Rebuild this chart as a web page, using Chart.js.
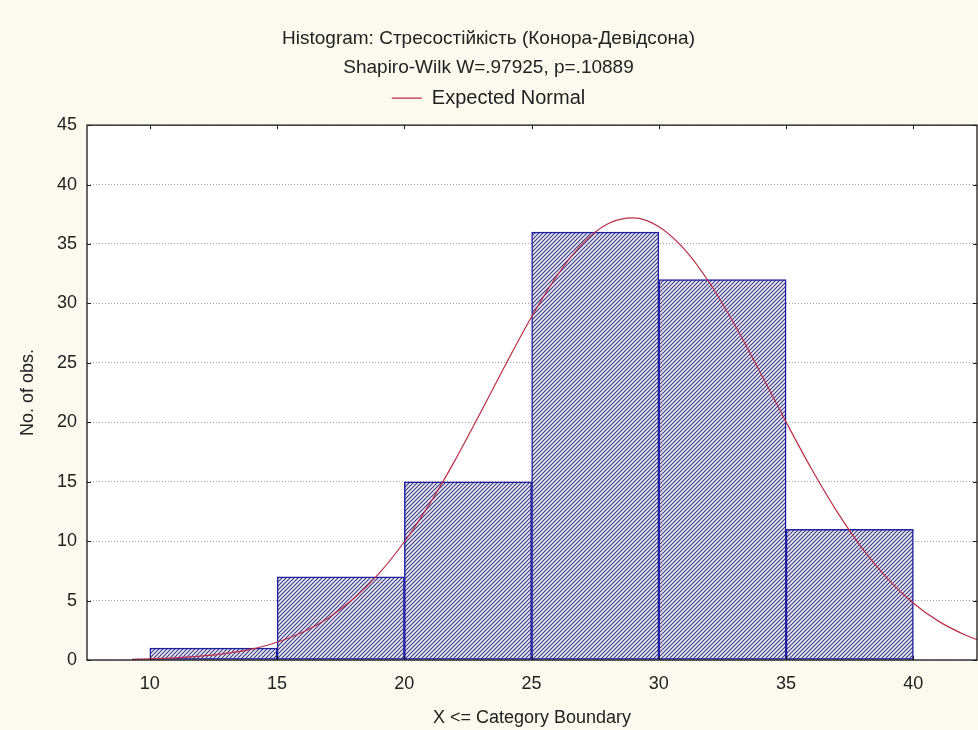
<!DOCTYPE html>
<html><head><meta charset="utf-8">
<script src="https://cdn.jsdelivr.net/npm/chart.js@4.4.1/dist/chart.umd.min.js"></script>
<style>html,body{margin:0;padding:0;background:#fcf9ef;overflow:hidden;}</style>
</head><body>
<canvas id="c" width="978" height="730"></canvas>
<script>
// ---- data ----
const titleLines = ['Histogram: Стресостійкість (Конора-Девідсона)', 'Shapiro-Wilk W=.97925, p=.10889'];
const legendLabel = 'Expected Normal';
const xAxisTitle = 'X <= Category Boundary';
const yAxisTitle = 'No. of obs.';
const binStarts = [10, 15, 20, 25, 30, 35];
const binEnds   = [15, 20, 25, 30, 35, 40];
const counts    = [1, 7, 15, 36, 32, 11];
const curveX = [9.3, 10, 11, 12, 13, 14, 15, 16, 17, 18, 19, 20, 21, 22, 23, 24, 25, 26, 27, 28, 29, 30, 31, 32, 33, 34, 35, 36, 37, 38, 39, 40, 41, 42, 42.5];
const curveY = [0.06, 0.10, 0.18, 0.32, 0.55, 0.92, 1.49, 2.33, 3.52, 5.15, 7.27, 9.95, 13.16, 16.84, 20.84, 24.94, 28.88, 32.34, 35.03, 36.70, 37.19, 36.46, 34.57, 31.70, 28.12, 24.12, 20.02, 16.07, 12.48, 9.37, 6.81, 4.78, 3.25, 2.14, 1.71];
const xTicks = [10, 15, 20, 25, 30, 35, 40];
const xRange = [7.53, 42.5];
const yRange = [0, 45];
const yStep = 5;

const FONT = "'Liberation Sans', Arial, sans-serif";
const TEXT = '#222222';
const canvas = document.getElementById('c');
const ctx = canvas.getContext('2d');

function hatchPattern() {
  const s = 4;
  const c = document.createElement('canvas');
  c.width = s; c.height = s;
  const g = c.getContext('2d');
  g.fillStyle = '#eeeef8';
  g.fillRect(0, 0, s, s);
  g.strokeStyle = '#3f3f80';
  g.lineWidth = 1.2;
  g.beginPath();
  g.moveTo(0, s); g.lineTo(s, 0);
  g.moveTo(-1, 1); g.lineTo(1, -1);
  g.moveTo(s - 1, s + 1); g.lineTo(s + 1, s - 1);
  g.stroke();
  return ctx.createPattern(c, 'repeat');
}

const barData = binStarts.map((s, i) => ({ x: (s + binEnds[i]) / 2, y: counts[i] }));
const lineData = curveX.map((x, i) => ({ x: x, y: curveY[i] }));

const framePlugin = {
  id: 'frame',
  beforeDraw(chart) {
    const { ctx, chartArea: a } = chart;
    ctx.save();
    ctx.fillStyle = '#fcf9ef';
    ctx.fillRect(0, 0, chart.width, chart.height);
    ctx.fillStyle = '#ffffff';
    ctx.fillRect(a.left, a.top, a.right - a.left, a.bottom - a.top);
    ctx.restore();
  },
  afterDraw(chart) {
    const { ctx, chartArea: a, scales } = chart;
    ctx.save();
    ctx.strokeStyle = '#1a1a1a';
    ctx.lineWidth = 1.3;
    ctx.strokeRect(a.left, a.top, a.right - a.left, a.bottom - a.top);
    ctx.beginPath();
    const t = 4;
    xTicks.forEach(v => {
      const px = Math.round(scales.x.getPixelForValue(v)) + 0.5;
      ctx.moveTo(px, a.top); ctx.lineTo(px, a.top + t);
      ctx.moveTo(px, a.bottom); ctx.lineTo(px, a.bottom - t);
    });
    scales.y.ticks.forEach(tk => {
      const py = Math.round(scales.y.getPixelForValue(tk.value)) + 0.5;
      ctx.moveTo(a.left, py); ctx.lineTo(a.left + t, py);
      ctx.moveTo(a.right, py); ctx.lineTo(a.right - t, py);
    });
    ctx.lineWidth = 1;
    ctx.stroke();
    ctx.restore();
  }
};

new Chart(ctx, {
  type: 'bar',
  data: {
    datasets: [
      {
        type: 'line',
        label: legendLabel,
        data: lineData,
        borderColor: '#bb2d48',
        borderWidth: 1.2,
        pointRadius: 0,
        pointStyle: 'line',
        tension: 0.4,
        cubicInterpolationMode: 'monotone',
        fill: false,
        order: 0
      },
      {
        type: 'bar',
        label: 'counts',
        data: barData,
        backgroundColor: hatchPattern(),
        borderColor: '#1e1ea0',
        borderWidth: 1.5,
        borderSkipped: false,
        barPercentage: 1,
        categoryPercentage: 1,
        order: 1
      }
    ]
  },
  options: {
    responsive: false,
    animation: false,
    devicePixelRatio: 1,
    layout: { padding: { left: 0, right: 1, top: 0, bottom: 0 } },
    plugins: {
      title: {
        display: true,
        text: titleLines,
        color: TEXT,
        font: { family: FONT, size: 19, weight: 'normal', lineHeight: 1.53 },
        padding: { top: 24, bottom: 0 }
      },
      legend: {
        display: true,
        labels: {
          filter: item => item.text === legendLabel,
          usePointStyle: true,
          pointStyleWidth: 30,
          color: TEXT,
          font: { family: FONT, size: 20 },
          padding: 6
        }
      },
      tooltip: { enabled: false }
    },
    scales: {
      x: {
        type: 'linear',
        min: xRange[0],
        max: xRange[1],
        offset: false,
        afterBuildTicks: s => { s.ticks = xTicks.map(v => ({ value: v })); },
        afterFit: s => { s.height = 70; },
        grid: { display: false, drawTicks: false },
        border: { display: false },
        ticks: { color: TEXT, font: { family: FONT, size: 18 }, padding: 13, maxRotation: 0 },
        title: { display: true, text: xAxisTitle, color: TEXT, font: { family: FONT, size: 18 }, padding: { top: 4, bottom: 1 } }
      },
      xTop: {
        type: 'linear',
        position: 'top',
        min: xRange[0],
        max: xRange[1],
        afterFit: s => { s.height = 7; },
        grid: { display: false, drawTicks: false },
        border: { display: false },
        ticks: { display: false }
      },
      y: {
        min: yRange[0],
        max: yRange[1],
        afterFit: s => { s.width = 87; },
        ticks: { stepSize: yStep, color: TEXT, font: { family: FONT, size: 18 }, padding: 10 },
        grid: { color: '#a0a0a0', drawTicks: false, lineWidth: 1 },
        border: { display: false, dash: [1, 2] },
        title: { display: true, text: yAxisTitle, color: TEXT, font: { family: FONT, size: 18 }, padding: { top: 17, bottom: 0 } }
      }
    }
  },
  plugins: [framePlugin]
});
</script>
</body></html>
